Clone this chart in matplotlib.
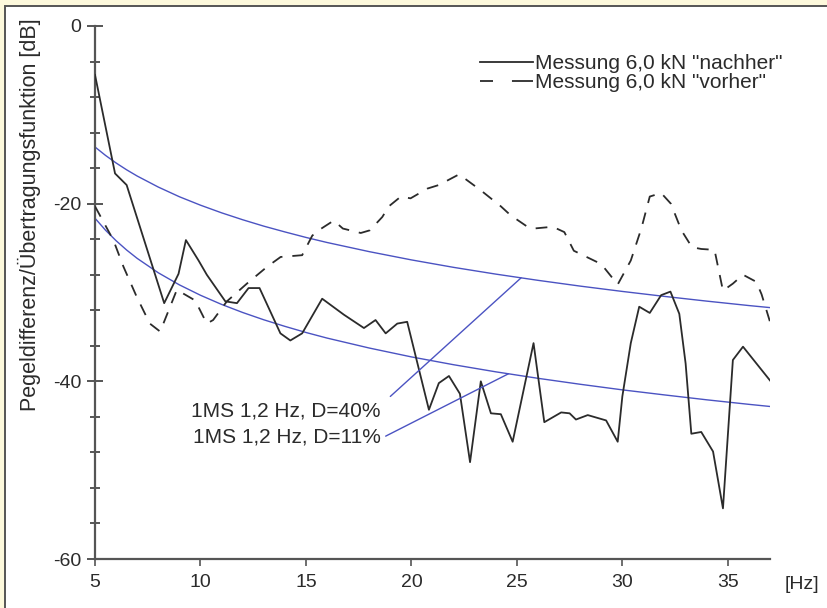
import matplotlib
matplotlib.use("Agg")
import matplotlib.pyplot as plt
from matplotlib.lines import Line2D
from matplotlib.patches import Rectangle

plt.rcParams.update({
    "font.family": ["Liberation Sans", "DejaVu Sans"],
    "axes.unicode_minus": False,
})

# measured level difference after the retrofit ("nachher")
f_after = [5.0, 5.95, 6.5, 8.28, 8.96, 9.31, 9.91, 10.3, 11.18, 11.73, 12.28, 12.8,
           13.79, 14.26, 14.82, 15.77, 16.8, 17.75, 18.3, 18.78, 19.33, 19.8,
           20.83, 21.3, 21.78, 22.3, 22.78, 23.29, 23.77, 24.24, 24.8, 25.79,
           26.3, 27.1, 27.5, 27.8, 28.36, 29.23, 29.78, 30.0, 30.4, 30.8, 31.3,
           31.84, 32.28, 32.7, 33.0, 33.27, 33.74, 34.3, 34.77, 35.24, 35.72, 37.0]
db_after = [-5.5, -16.6, -17.9, -31.2, -27.9, -24.1, -26.4, -28.0, -31.0, -31.2, -29.5, -29.5,
            -34.6, -35.4, -34.6, -30.7, -32.5, -34.0, -33.1, -34.6, -33.5, -33.3,
            -43.2, -40.2, -39.4, -41.4, -49.1, -40.0, -43.6, -43.7, -46.8, -35.7,
            -44.6, -43.5, -43.6, -44.3, -43.8, -44.4, -46.8, -41.7, -35.7, -31.6, -32.3,
            -30.3, -29.9, -32.4, -38.0, -45.9, -45.7, -47.9, -54.3, -37.6, -36.1, -39.9]

# measured level difference before ("vorher")
f_before = [5.0, 5.87, 6.35, 6.98, 7.6, 8.09, 8.88, 9.75, 10.3, 10.6, 11.25, 12.2,
            13.16, 13.8, 14.82, 15.3, 15.6, 16.32, 16.75, 17.6, 18.03, 18.62, 18.93,
            19.5, 19.96, 20.76, 21.3, 22.26, 23.29, 24.24, 24.7, 25.5, 25.8, 26.7,
            27.25, 27.7, 29.0, 29.78, 30.4, 30.9, 31.3, 31.84, 32.3, 32.8, 33.3,
            33.74, 34.37, 34.77, 35.24, 35.72, 36.35, 36.6, 37.0]
db_before = [-20.3, -24.1, -27.1, -30.5, -33.5, -34.4, -29.7, -30.9, -33.5, -33.1, -31.0, -29.0,
             -27.1, -26.0, -25.8, -23.6, -23.0, -21.9, -22.8, -23.3, -23.0, -21.5, -20.3,
             -19.2, -19.4, -18.3, -17.9, -16.7, -18.5, -20.3, -21.3, -22.6, -22.8, -22.6,
             -23.2, -25.3, -26.8, -29.1, -26.4, -22.8, -19.2, -18.8, -20.0, -23.0, -24.9,
             -25.1, -25.2, -29.8, -29.0, -28.0, -28.8, -30.2, -33.3]

# single-mass-spring system, 1.2 Hz, transfer function values
f_sdof = [5, 5.5, 6, 6.5, 7, 8, 9, 10, 11, 12, 13, 14, 15, 16, 18, 20, 22, 24, 26,
          28, 30, 32, 34, 36, 37]
db_d40 = [-13.62, -14.57, -15.42, -16.19, -16.89, -18.13, -19.22, -20.17, -21.03, -21.81,
          -22.53, -23.18, -23.80, -24.37, -25.40, -26.33, -27.17, -27.93, -28.63,
          -29.28, -29.88, -30.44, -30.97, -31.47, -31.70]
db_d11 = [-21.64, -22.99, -24.17, -25.22, -26.16, -27.78, -29.14, -30.31, -31.34, -32.25,
          -33.07, -33.81, -34.50, -35.13, -36.25, -37.25, -38.13, -38.93, -39.66,
          -40.33, -40.96, -41.53, -42.08, -42.59, -42.83]

x_ticks = [5, 10, 15, 20, 25, 30, 35]
y_ticks = [0, -20, -40, -60]

ink = "#2b2b2b"
axis_grey = "#555555"
blue = "#4b53c2"

fig = plt.figure(figsize=(8.27, 6.08), dpi=100)
fig.patch.set_facecolor("#fdf9dc")
fig.add_artist(Rectangle((5 / 827, -0.05), 1.1, 1.05 - 6 / 608,
                         transform=fig.transFigure, facecolor="white",
                         edgecolor=axis_grey, linewidth=1.4, zorder=0))

ax = fig.add_axes([95 / 827, 1 - 559 / 608, 675 / 827, 533 / 608])
ax.set_facecolor("none")

ax.plot(f_sdof, db_d40, color=blue, lw=1.0, zorder=2)
ax.plot(f_sdof, db_d11, color=blue, lw=1.0, zorder=2)
ax.plot(f_after, db_after, color=ink, lw=1.3, zorder=3)
ax.plot(f_before, db_before, color=ink, lw=1.3, zorder=3, dashes=(6.5, 5.5))

ax.set_xlim(5, 37)
ax.set_ylim(-60, 0)
for side in ("top", "right"):
    ax.spines[side].set_visible(False)
for side in ("left", "bottom"):
    ax.spines[side].set_color(axis_grey)
    ax.spines[side].set_linewidth(1.6)

ax.set_xticks(x_ticks)
ax.set_yticks(y_ticks)
ax.set_yticks([v for v in range(-56, 0, 4) if v % 20 != 0], minor=True)
ax.tick_params(axis="x", direction="out", length=5, width=1.2, color=axis_grey,
               labelsize=14, pad=6, labelcolor=ink)
ax.tick_params(axis="y", which="major", direction="inout", length=11.5, width=1.4,
               color=axis_grey, labelsize=14, pad=4, labelcolor=ink)
ax.tick_params(axis="y", which="minor", direction="inout", length=6.5, width=1.4,
               color=axis_grey)

ax.text(1.022, -0.047, "[Hz]", transform=ax.transAxes, ha="left", va="center",
        fontsize=14, color=ink)
fig.text(29 / 827, 1 - 18 / 608, "Pegeldifferenz/Übertragungsfunktion [dB]",
         rotation=90, ha="center", va="top", fontsize=15.5, color=ink)

# legend keys: the dashed key shows two dashes with a wide gap
key_after = Line2D([], [], color=ink, lw=1.3)
key_before = Line2D([], [], color=ink, lw=1.3, linestyle=(0, (7.2, 10.5, 12, 10)))
ax.legend([key_after, key_before],
          ['Messung 6,0 kN "nachher"', 'Messung 6,0 kN "vorher"'],
          loc="upper left", bbox_to_anchor=(480 / 827, 1 - 54 / 608),
          bbox_transform=fig.transFigure, frameon=False, fontsize=15,
          handlelength=2.55, handletextpad=0.1, labelspacing=0.0,
          borderpad=0, borderaxespad=0, labelcolor=ink)

# model labels with leader lines to their curves
ax.text(18.54, -43.36, "1MS 1,2 Hz, D=40%", ha="right", va="center", fontsize=15, color=ink)
ax.text(18.54, -46.28, "1MS 1,2 Hz, D=11%", ha="right", va="center", fontsize=15, color=ink)
ax.annotate("", xy=(25.2, -28.35), xytext=(19.0, -41.7),
            arrowprops=dict(arrowstyle="-", color=blue, lw=1.0, shrinkA=0, shrinkB=0))
ax.annotate("", xy=(24.6, -39.15), xytext=(18.78, -46.17),
            arrowprops=dict(arrowstyle="-", color=blue, lw=1.0, shrinkA=0, shrinkB=0))

fig.savefig("out.png", dpi=100, facecolor=fig.get_facecolor())
